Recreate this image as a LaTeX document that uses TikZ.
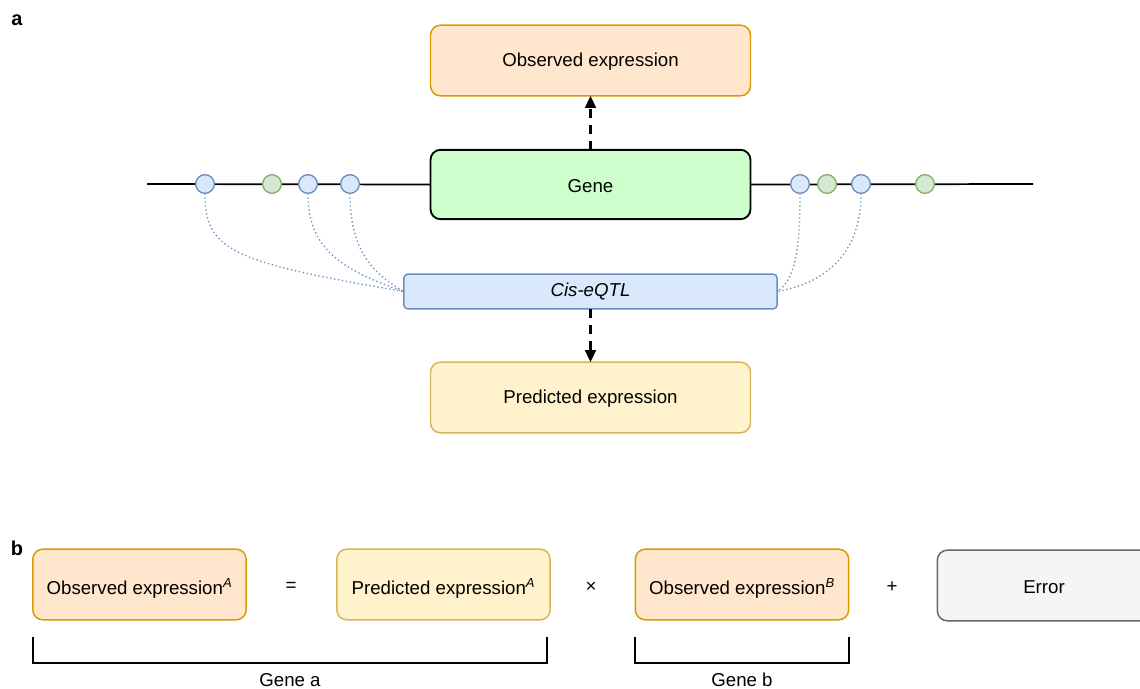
\documentclass[tikz,border=0pt]{standalone}
\usepackage{fontspec}
\setmainfont{Liberation Sans}
\usetikzlibrary{arrows.meta}
\definecolor{obsfill}{HTML}{FFE6CC}
\definecolor{obsdraw}{HTML}{D79B00}
\definecolor{prefill}{HTML}{FFF2CC}
\definecolor{predraw}{HTML}{D6B656}
\definecolor{genefill}{HTML}{CCFFCC}
\definecolor{bluefill}{HTML}{DAE8FC}
\definecolor{bluedraw}{HTML}{6C8EBF}
\definecolor{greenfill}{HTML}{D5E8D4}
\definecolor{greendraw}{HTML}{82B366}
\definecolor{errfill}{HTML}{F5F5F5}
\definecolor{errdraw}{HTML}{666666}
\tikzset{
  x=0.75pt,y=-0.75pt,
  every node/.style={font=\fontsize{14}{16}\selectfont, inner sep=0pt, outer sep=0pt},
  box/.style={rounded corners=7.5pt, line width=1.1pt, minimum width=240pt, minimum height=53pt},
  obsbox/.style={box, fill=obsfill, draw=obsdraw},
  predbox/.style={box, fill=prefill, draw=predraw},
  genebox/.style={box, fill=genefill, draw=black, line width=1.4pt, minimum height=52pt},
  eqtlbox/.style={rounded corners=3pt, fill=bluefill, draw=bluedraw, line width=1.1pt, minimum width=280pt, minimum height=26pt},
  smallbox/.style={box, minimum width=160pt},
  snpb/.style={circle, fill=bluefill, draw=bluedraw, line width=1pt, minimum size=14pt},
  snpg/.style={circle, fill=greenfill, draw=greendraw, line width=1pt, minimum size=14pt},
  dotlink/.style={draw=bluedraw, line width=1pt, dotted},
  darrow/.style={-{Triangle[length=9pt,width=8pt]}, line width=2pt, dash pattern=on 7pt off 5pt},
  panel/.style={font=\fontsize{15}{18}\selectfont\bfseries},
  bracket/.style={line width=1pt},
  txt/.style={label={[yshift=-1.2pt]center:#1}},
  lowtxt/.style={label={[yshift=-3pt]center:#1}},
}
\begin{document}
\begin{tikzpicture}
\clip (0,0) rectangle (1140,689);
\useasboundingbox (0,0) rectangle (1140,689);

\node[panel] (la) at (17,20) {a};
\node[panel] (lb) at (17,548) {b};

% chromosome line
\coordinate (L0) at (147,184);
\coordinate (R0) at (1033,184);
\node[genebox, txt={Gene}] (gene) at (590.5,184.5) {};
\draw[line width=1.3pt] (L0) -- (gene.west);
\draw[line width=1.3pt] (gene.east) -- (R0);

\node[obsbox, txt={Observed expression}] (obs) at (590.5,60.5) {};
\node[predbox, txt={Predicted expression}] (pred) at (590.5,397.5) {};
\node[eqtlbox] (eqtl) at (590.5,291.5) {\itshape Cis-eQTL};

% SNPs
\node[snpb] (s1) at (205,184) {};
\node[snpg] (s2) at (272,184) {};
\node[snpb] (s3) at (308,184) {};
\node[snpb] (s4) at (350,184) {};
\node[snpb] (s5) at (800,184) {};
\node[snpg] (s6) at (827,184) {};
\node[snpb] (s7) at (861,184) {};
\node[snpg] (s8) at (925,184) {};

% dotted links
\draw[dotlink] (s1.south) .. controls (205,250) and (230,262) .. (eqtl.west);
\draw[dotlink] (s3.south) .. controls (308,245) and (335,268) .. (eqtl.west);
\draw[dotlink] (s4.south) .. controls (350,248) and (370,272) .. (eqtl.west);
\draw[dotlink] (s5.south) .. controls (800,250) and (795,280) .. (eqtl.east);
\draw[dotlink] (s7.south) .. controls (861,250) and (830,282) .. (eqtl.east);

% arrows
\draw[darrow] (gene.north) -- (obs.south);
\draw[darrow] (eqtl.south) -- (pred.north);

% panel b
\node[obsbox, smallbox, lowtxt={Observed expression\textsuperscript{\itshape A}}] (oa) at (139.5,584.5) {};
\node (eq) at (291,587) {=};
\node[predbox, smallbox, lowtxt={Predicted expression\textsuperscript{\itshape A}}] (pa) at (443.5,584.5) {};
\node (times) at (591,587) {×};
\node[obsbox, smallbox, lowtxt={Observed expression\textsuperscript{\itshape B}}] (ob) at (742,584.5) {};
\node (plus) at (892,587) {+};
\node[box, smallbox, fill=errfill, draw=errdraw, txt={Error}] (err) at (1044,585.5) {};

% brackets
\coordinate (ba1) at (33,637);
\coordinate (ba2) at (547,637);
\draw[bracket] (ba1) -- ++(0,26) -| (ba2);
\node (ga) at (290,680) {Gene a};
\coordinate (bb1) at (635,637);
\coordinate (bb2) at (849,637);
\draw[bracket] (bb1) -- ++(0,26) -| (bb2);
\node (gb) at (742,680) {Gene b};
\end{tikzpicture}
\end{document}
